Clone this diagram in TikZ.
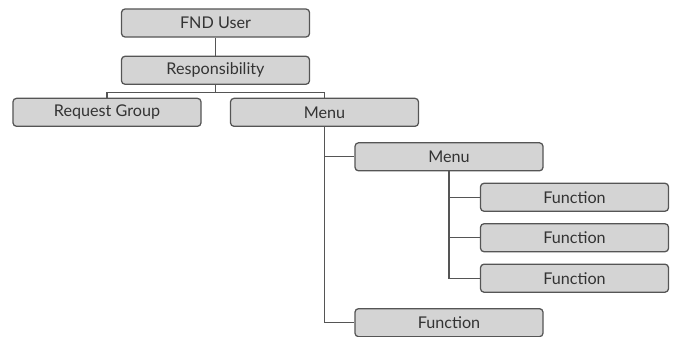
\documentclass[tikz,border=0pt]{standalone}
\usepackage{fontspec}
\setmainfont{Lato}
\usetikzlibrary{positioning, calc}
\definecolor{boxfill}{HTML}{D4D4D4}
\definecolor{boxline}{HTML}{555555}
\tikzset{
  block/.style={
    rectangle,
    rounded corners=2.5pt,
    draw=boxline,
    fill=boxfill,
    line width=0.9pt,
    align=center,
    minimum width=4.7cm,
    minimum height=0.7cm,
    inner sep=2pt,
    text=black!80,
    font=\fontsize{11.5}{13}\selectfont
  },
  link/.style={draw=boxline, line width=0.8pt}
}

\begin{document}
\begin{tikzpicture}
  \useasboundingbox (-5.3875,0.575) rectangle (11.5125,-7.825);

  \node[block] (user) {FND User};
  \node[block, below=0.45cm of user] (resp) {Responsibility};
  \node[block, below=0.32cm of resp, xshift=-2.7125cm] (reqgroup) {Request Group};
  \node[block, below=0.32cm of resp, xshift=2.725cm] (menu) {Menu};
  \node[block, below=0.38cm of menu, xshift=3.1125cm] (submenu) {Menu};
  \node[block, below=0.28cm of submenu, xshift=3.1375cm] (func1) {Function};
  \node[block, below=0.28cm of func1] (func2) {Function};
  \node[block, below=0.28cm of func2] (func3) {Function};
  \node[block, below=0.38cm of func3, xshift=-3.1375cm] (func4) {Function};

  % tree links
  \draw[link] (user) -- (resp);
  \draw[link] (resp.south) -- ++(0,-0.2cm) coordinate (split);
  \draw[link] (split) -| (reqgroup.north);
  \draw[link] (split) -| (menu.north);
  \draw[link] (menu.south) |- (submenu.west);
  \draw[link] (menu.south) |- (func4.west);
  \foreach \f in {func1, func2, func3}
    \draw[link] (submenu.south) |- (\f.west);
\end{tikzpicture}
\end{document}
